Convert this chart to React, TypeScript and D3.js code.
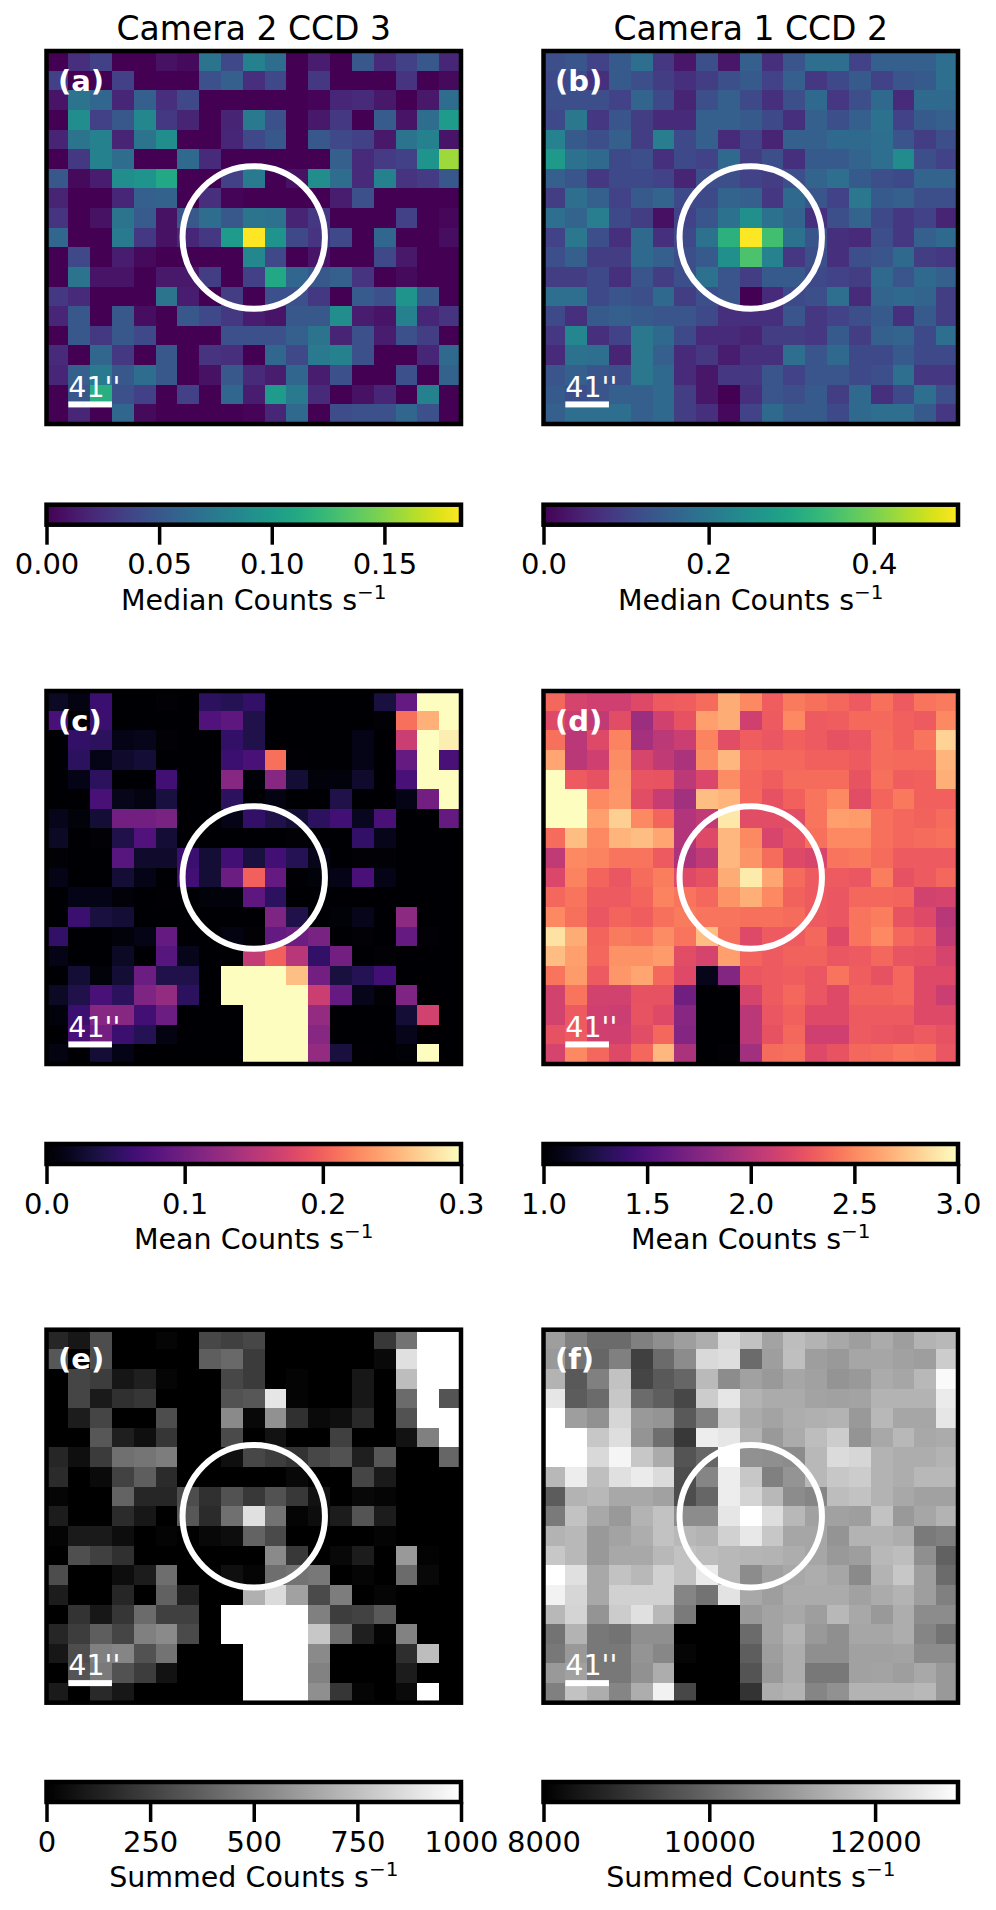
import React, { useEffect, useRef } from 'react';
import * as d3 from 'd3';

// cutouts, row by row from the top (19 x 19 pixels)
const medianCam2 = [
  [0,.025,.035,0,0,.008,.005,.07,.04,.08,.065,0,.015,0,.05,.022,.035,.05,.02],
  [.035,0,0,.035,0,0,0,.045,.055,.025,.04,0,.03,0,0,0,.028,0,.005],
  [.01,.07,.06,.02,.055,.025,.04,0,0,0,0,0,.002,.02,.022,.012,0,.012,.065],
  [0,.09,.035,.05,.085,.03,.018,0,.018,.075,.045,0,.012,.03,0,.052,.01,.065,.1],
  [.018,.07,.08,.018,.07,.09,0,0,.02,.04,.05,0,.05,.04,.035,.012,.07,.08,.01],
  [0,.03,.08,.065,0,0,.062,.022,0,0,0,0,0,.055,.022,.032,.035,.095,.157],
  [.05,.005,.015,.09,.095,.11,0,0,.035,.075,0,.008,.09,.065,.022,.08,.028,.032,.05],
  [.018,0,0,.02,.055,.058,0,.025,.002,0,0,0,0,.015,.045,0,0,0,0],
  [.028,0,.008,.07,.052,.008,.05,.065,.05,.07,.068,.018,.03,0,0,0,.035,0,.003],
  [.06,0,0,.075,.03,.008,.02,.03,.1,.184,.095,.04,.028,.04,0,.06,0,0,.006],
  [0,.04,0,.015,.005,0,0,0,0,.085,.04,0,.01,0,0,.04,.012,0,0],
  [0,.07,.01,.01,0,.012,.012,.033,0,.035,.11,.06,.05,.055,.028,0,.005,0,0],
  [.03,.022,0,0,0,.07,.015,0,.033,0,.045,.045,.03,0,.052,.045,.095,.05,0],
  [.02,.05,0,.05,.006,0,.05,.04,.03,.015,.01,.05,.05,.09,.015,.01,.08,.02,.028],
  [0,.05,.03,.05,.04,0,0,0,.045,.045,.045,.055,.07,.018,.045,.015,.045,.033,0],
  [.022,0,.06,.03,0,.05,0,.028,.025,0,.06,.04,.075,.08,.045,0,0,.02,.062],
  [.02,.055,.075,.05,.065,.05,0,.008,.05,.022,.015,.06,.015,.045,0,0,.045,0,.058],
  [0,.05,.115,.045,.035,0,.035,0,.06,.015,.1,.075,.022,0,.008,.02,0,.08,0],
  [0,.02,0,.06,.005,0,0,0,0,.002,.02,.062,0,.042,.045,.045,.06,.045,0],
];

const medianCam1 = [
  [.12,.13,.1,.14,.18,.08,.03,.12,.03,.15,.07,.13,.18,.18,.1,.15,.15,.15,.18],
  [.11,.11,.07,.14,.12,.09,.07,.09,.12,.14,.1,.15,.08,.11,.14,.1,.13,.14,.18],
  [.12,.12,.12,.1,.16,.11,.05,.12,.15,.11,.07,.12,.17,.08,.12,.17,.06,.17,.17],
  [.11,.2,.08,.13,.09,.06,.06,.15,.15,.14,.11,.07,.15,.12,.15,.19,.1,.14,.15],
  [.22,.14,.12,.15,.09,.21,.11,.15,.06,.1,.05,.15,.15,.17,.17,.18,.13,.09,.12],
  [.27,.19,.17,.11,.12,.07,.11,.1,.17,.09,.12,.07,.14,.14,.16,.18,.24,.12,.1],
  [.15,.13,.08,.11,.11,.1,.05,.12,.12,.1,.09,.12,.16,.18,.14,.12,.11,.16,.16],
  [.09,.18,.15,.1,.14,.16,.11,.11,.16,.15,.08,.17,.13,.1,.2,.14,.15,.12,.12],
  [.18,.16,.21,.11,.09,.02,.1,.13,.19,.25,.19,.16,.07,.12,.16,.11,.08,.1,.05],
  [.1,.2,.12,.07,.17,.07,.11,.19,.32,.5,.35,.19,.13,.07,.06,.12,.08,.15,.17],
  [.12,.15,.09,.09,.17,.15,.12,.14,.25,.36,.22,.08,.12,.07,.12,.13,.17,.09,.08],
  [.09,.09,.11,.07,.13,.09,.12,.19,.13,.09,.14,.14,.11,.1,.09,.17,.13,.17,.15],
  [.18,.18,.11,.13,.12,.17,.09,.12,.13,0,.06,.11,.12,.18,.06,.16,.17,.16,.09],
  [.11,.07,.14,.15,.14,.13,.13,.11,.07,.07,.07,.13,.08,.1,.12,.14,.07,.14,.09],
  [.08,.23,.07,.1,.2,.17,.11,.06,.06,.05,.09,.09,.08,.14,.09,.15,.16,.11,.18],
  [.06,.19,.18,.05,.2,.15,.06,.08,.04,.07,.07,.18,.13,.17,.11,.11,.14,.11,.11],
  [.13,.15,.13,.12,.2,.17,.06,.03,.08,.08,.13,.1,.13,.13,.11,.12,.18,.08,.08],
  [.14,.12,.13,.15,.15,.17,.09,.03,0,.07,.13,.12,.14,.09,.17,.07,.11,.18,.12],
  [.15,.18,.18,.18,.15,.17,.09,.07,.01,.1,.17,.14,.14,.11,.17,.18,.18,.14,.08],
];

const meanCam2 = [
  [.02,.01,.06,0,0,.003,0,.05,.045,.055,0,0,0,0,0,.035,.09,.3,.3],
  [.07,0,.06,0,0,0,0,.075,.085,.04,0,0,0,0,0,.003,.21,.25,.3],
  [0,.055,.05,.012,.015,.003,0,0,.055,.04,0,0,0,0,.012,0,.165,.3,.29],
  [0,.05,.012,.025,.03,0,0,0,.06,.07,.21,.002,0,0,.012,0,.09,.3,.07],
  [0,.012,.05,0,0,.065,0,0,.115,.004,.115,.03,.006,.008,.025,0,.07,.3,.3],
  [0,0,.07,.015,.01,.035,0,0,.05,0,.01,0,0,.04,0,0,.012,.1,.3],
  [.015,.006,.03,.1,.1,.105,0,0,.012,.055,.04,.03,.05,.065,.018,.07,0,0,.09],
  [.02,0,.003,.04,.075,.03,0,0,0,0,0,.003,0,0,.055,.015,0,0,0],
  [.003,0,0,.08,.025,.025,.06,.03,.065,.035,.065,.045,.015,0,.003,.003,0,0,0],
  [.012,0,0,.03,.012,0,.065,.03,.095,.2,.09,.002,.006,.012,.07,.012,0,0,0],
  [0,.012,.012,.005,0,.002,0,.006,.006,.085,.05,0,0,0,0,0,0,0,0],
  [0,.06,.035,.03,0,0,0,0,0,0,.11,.04,0,.004,.015,0,.12,0,0],
  [.055,0,0,.006,.012,.09,0,0,.01,.003,.09,.095,.105,0,.003,0,.09,.003,0],
  [.012,0,0,.02,0,.08,.015,0,0,.16,.2,.15,.055,.1,0,.003,0,0,0],
  [0,.03,.007,.03,.095,.04,.04,0,.3,.3,.3,.26,.1,.035,.045,.065,0,0,0],
  [.02,.04,.07,.05,.11,.125,.05,0,.3,.3,.3,.3,.165,.09,.015,.003,.11,0,0],
  [.008,.06,.115,.115,.065,.095,0,0,0,.3,.3,.3,.125,0,0,0,.03,.17,0],
  [0,.07,.1,.06,.045,.01,0,0,0,.3,.3,.3,.115,0,0,0,.015,0,0],
  [.01,0,.03,.012,0,0,0,0,0,.3,.3,.3,.125,.035,.002,0,.004,.3,0],
];

const meanCam1 = [
  [2.36,2.15,2.12,2.12,2.2,2.3,2.32,2.38,2.65,2.5,2.32,2.45,2.4,2.36,2.3,2.4,2.3,2.42,2.45],
  [2.2,2.1,2.05,2.22,1.88,2.13,2.25,2.6,2.65,2.12,2.3,2.5,2.3,2.32,2.37,2.37,2.33,2.3,2.5],
  [2.4,2.02,2.2,2.48,1.92,2.03,2.1,2.48,2.22,2.32,2.28,2.33,2.3,2.25,2.28,2.38,2.33,2.42,2.82],
  [2.62,2.02,2.12,2.52,2.16,2.05,1.95,2.52,2.7,2.38,2.36,2.36,2.33,2.33,2.3,2.38,2.37,2.37,2.68],
  [3,2.3,2.25,2.55,2.27,2.26,2.03,2.18,2.52,2.36,2.32,2.38,2.38,2.38,2.26,2.4,2.32,2.33,2.66],
  [3,3,2.5,2.56,2.22,2.08,1.9,2.72,2.68,2.37,2.25,2.33,2.42,2.5,2.22,2.35,2.44,2.33,2.33],
  [3,3,2.6,2.8,2.5,2.35,1.98,2.05,2.9,2.22,2.22,2.22,2.42,2.6,2.58,2.4,2.36,2.34,2.38],
  [2.38,2.72,2.5,2.68,2.72,2.62,1.98,2.2,2.7,2.5,2.17,2.25,2.4,2.5,2.5,2.4,2.36,2.38,2.4],
  [2.05,2.5,2.48,2.42,2.42,2.3,1.95,2.05,2.7,2.55,2.38,2.2,2.16,2.42,2.44,2.38,2.3,2.3,2.3],
  [2.18,2.48,2.35,2.28,2.38,2.46,2.2,2.25,2.65,2.92,2.62,2.38,2.3,2.3,2.28,2.46,2.25,2.3,2.36],
  [2.36,2.42,2.3,2.3,2.35,2.48,2.42,2.36,2.55,2.66,2.5,2.34,2.3,2.28,2.36,2.36,2.35,2.14,2.15],
  [2.5,2.4,2.28,2.35,2.32,2.4,2.45,2.42,2.42,2.4,2.4,2.38,2.3,2.28,2.42,2.46,2.26,2.2,2],
  [2.88,2.65,2.35,2.45,2.42,2.52,2.42,2.72,2.4,2.2,2.3,2.3,2.36,2.2,2.42,2.5,2.36,2.3,2.05],
  [2.72,2.6,2.36,2.54,2.54,2.58,2.22,2.15,2.6,2.35,2.3,2.34,2.34,2.28,2.3,2.36,2.27,2.25,2.15],
  [2.42,2.58,2.3,2.56,2.62,2.36,2.2,1.1,1.75,2.28,2.3,2.32,2.28,2.42,2.32,2.25,2.36,2.2,2.2],
  [2.14,2.42,2.14,2.14,2.25,2.25,1.66,1,1,2.15,2.3,2.36,2.28,2.2,2.34,2.34,2.36,2.2,2.1],
  [2.14,2.3,2.12,2.1,2.26,2.2,1.78,1,1,2.02,2.28,2.33,2.2,2.2,2.3,2.3,2.3,2.2,2.2],
  [2.25,2.3,2.12,2.12,2.22,2.36,1.76,1,1,2.02,2.25,2.36,2.12,2.12,2.3,2.28,2.26,2.3,2.25],
  [2.15,2.5,2.36,2.2,2.36,2.7,1.95,1,1.02,1.9,2.38,2.4,2.2,2.26,2.36,2.38,2.42,2.4,2.28],
];

const summedCam2 = [
  [150,90,300,0,0,20,0,280,250,280,0,0,0,0,0,220,450,1000,1000],
  [340,0,300,0,0,0,0,370,410,230,0,0,0,0,0,35,880,1000,1000],
  [0,270,240,85,120,20,0,0,280,230,0,15,0,0,90,0,740,1000,1000],
  [0,270,100,190,210,0,0,0,320,340,900,15,0,0,90,0,420,1000,330],
  [0,110,270,0,0,300,0,0,540,30,570,190,40,60,160,0,320,1000,1000],
  [0,0,340,120,60,210,0,0,290,0,70,0,0,250,0,0,70,500,1000],
  [150,60,230,440,460,490,0,0,60,280,240,200,280,320,120,340,0,0,400],
  [170,0,40,260,370,170,0,0,0,0,0,30,0,0,270,100,0,0,0],
  [20,0,0,390,150,150,300,190,320,220,320,220,70,0,30,20,0,0,0],
  [110,0,0,170,90,0,340,170,440,880,450,15,50,110,330,110,0,0,0],
  [15,100,100,50,0,15,0,30,50,390,290,0,0,0,0,15,0,0,0],
  [0,310,250,190,0,0,0,0,0,0,540,220,0,30,110,0,600,10,0],
  [300,0,0,50,110,430,0,0,60,20,430,450,470,0,20,0,420,30,0],
  [110,0,0,150,0,380,130,0,0,690,860,630,290,490,0,20,0,0,0],
  [0,200,90,210,420,250,250,0,1000,1000,1000,1000,500,240,260,350,0,0,0],
  [150,240,370,270,500,540,290,0,1000,1000,1000,1000,780,430,120,15,510,0,0],
  [90,300,500,520,320,450,0,0,0,1000,1000,1000,540,0,0,0,180,740,0],
  [0,330,480,320,240,70,0,0,0,1000,1000,1000,510,0,0,0,110,0,0],
  [100,0,160,90,0,0,0,0,0,1000,1000,1000,560,210,20,0,40,1000,0],
];

const summedCam1 = [
  [11100,10500,10100,10100,10500,10800,11100,11400,12250,11800,11200,11700,11500,11300,11100,11350,11100,11500,11600],
  [11000,10250,10000,10500,9250,10100,10750,12250,12350,10100,11100,11750,11100,11000,11250,11250,11150,11100,12000],
  [11500,9750,10500,11800,9350,9750,10000,11650,10750,11150,11000,11250,11150,10900,11000,11350,11250,11600,12900],
  [12500,9800,10100,11900,10100,9850,9400,12000,12500,11500,11350,11350,11200,11150,11200,11500,11500,11500,12600],
  [13000,11100,10850,12200,11000,10900,9750,10500,12000,11350,11200,11400,11450,11500,11000,11600,11250,11250,12500],
  [13000,13000,11900,12350,10900,10150,9100,12650,12500,11500,11000,11350,11700,12000,10900,11300,11600,11300,11350],
  [13000,13000,12250,12800,11900,11350,9650,10000,13000,10850,10800,10750,11600,12300,12200,11500,11400,11400,11500],
  [11600,12650,11750,12400,12600,12300,9500,10600,12650,11900,10500,10900,11600,11900,12000,11500,11400,11600,11600],
  [9800,11500,11600,11300,11300,11150,9500,10000,12650,12150,11600,10750,10600,11700,11800,11500,11300,11150,11150],
  [10400,11800,11300,11000,11500,11800,10750,10750,12500,13000,12350,11600,11150,11150,11100,11800,11000,11250,11500],
  [11500,11600,11000,11200,11400,11800,11600,11500,12100,12550,11900,11250,11250,10900,11500,11500,11400,10400,10500],
  [11900,11600,11000,11300,11300,11600,11800,11700,11600,11550,11500,11400,11250,11000,11100,11600,11700,10800,9900],
  [13000,12400,11300,11800,11600,12100,11800,12600,11600,10750,11150,11300,11400,11250,10700,11500,11900,11100,10100],
  [12750,12200,11300,12100,12100,12100,10600,10250,12450,11300,11100,11350,11350,11350,11150,11350,11500,11100,10500],
  [11600,12150,10900,12000,12400,11600,10400,8000,8000,11000,11200,11300,11100,11600,11300,11000,11400,10750,10750],
  [10250,11500,10350,10250,10800,10800,8000,8000,8000,10100,11200,11500,11000,10800,11250,11250,11400,10600,10250],
  [10350,11000,10350,10350,10900,10650,8100,8000,8000,9850,11100,11400,10800,10800,11150,11150,11200,10750,10750],
  [11000,11150,10350,10350,10850,11400,8000,8000,8000,9650,11000,11400,10350,10350,11150,11200,11100,11300,11000],
  [10500,11800,11400,10600,11400,12750,9400,8000,8000,9000,11400,11500,10600,10850,11500,11500,11500,11600,11000],
];

const columnTitles = ['Camera 2 CCD 3', 'Camera 1 CCD 2'];
const panelLetters = ['(a)', '(b)', '(c)', '(d)', '(e)', '(f)'];
const cbarLabels = ['Median Counts s', 'Median Counts s', 'Mean Counts s', 'Mean Counts s', 'Summed Counts s', 'Summed Counts s'];
const panelData = [medianCam2, medianCam1, meanCam2, meanCam1, summedCam2, summedCam1];
const panelRanges = [[0, 0.184], [0, 0.502], [0, 0.3], [1, 3], [0, 1000], [8000, 13000]];
const panelTicks = [
  [0, 0.05, 0.1, 0.15],
  [0, 0.2, 0.4],
  [0, 0.1, 0.2, 0.3],
  [1, 1.5, 2, 2.5, 3],
  [0, 250, 500, 750, 1000],
  [8000, 10000, 12000],
];
const tickFormats = ['.2f', '.1f', '.1f', '.1f', 'd', 'd'];
const grey = (t: number) => d3.rgb(255 * t, 255 * t, 255 * t).formatRgb();
const panelCmaps = [d3.interpolateViridis, d3.interpolateViridis, d3.interpolateMagma, d3.interpolateMagma, grey, grey];
const scaleBarLabel = "41''";

// layout, measured in px
const colX = [46.5, 543.5];
const rowY = [51, 691, 1329.7];
const cbarY = [504.7, 1144, 1782];
const panelW = 414.5, panelH = 373, cbarH = 20;
const font = 'DejaVu Sans';

function App() {
  const ref = useRef<SVGSVGElement>(null);

  useEffect(() => {
    const svg = d3.select(ref.current);
    svg.selectAll('*').remove();
    const defs = svg.append('defs');

    columnTitles.forEach((t, i) => {
      svg.append('text')
        .attr('x', colX[i] + panelW / 2)
        .attr('y', 40)
        .attr('text-anchor', 'middle')
        .style('font-family', font)
        .style('font-size', '33px')
        .text(t);
    });

    panelData.forEach((rows, p) => {
      const col = p % 2, row = Math.floor(p / 2);
      const x = d3.scaleLinear().domain([0, 19]).range([colX[col], colX[col] + panelW]);
      const y = d3.scaleLinear().domain([0, 19]).range([rowY[row], rowY[row] + panelH]);
      const [lo, hi] = panelRanges[p];
      const norm = d3.scaleLinear().domain([lo, hi]).range([0, 1]).clamp(true);
      const cmap = panelCmaps[p];
      const g = svg.append('g');

      rows.forEach((vals, r) => {
        g.selectAll(null)
          .data(vals)
          .join('rect')
          .attr('x', (_, c) => x(c))
          .attr('y', y(r))
          .attr('width', x(1) - x(0) + 0.5)
          .attr('height', y(1) - y(0) + 0.5)
          .attr('shape-rendering', 'crispEdges')
          .attr('fill', d => cmap(norm(d)));
      });

      g.append('rect')
        .attr('x', x(0)).attr('y', y(0))
        .attr('width', panelW).attr('height', panelH)
        .attr('fill', 'none').attr('stroke', '#000').attr('stroke-width', 4.5);

      // source aperture
      g.append('circle')
        .attr('cx', x(9.5)).attr('cy', y(9.5)).attr('r', 71.2)
        .attr('fill', 'none').attr('stroke', '#fff').attr('stroke-width', 6);

      g.append('text')
        .attr('x', x(0) + 11.5).attr('y', y(0) + 39.5)
        .attr('fill', '#fff')
        .style('font-family', font).style('font-size', '29px').style('font-weight', 'bold')
        .text(panelLetters[p]);

      // scale bar, two pixels long
      g.append('rect')
        .attr('x', x(1)).attr('y', y(17.85))
        .attr('width', x(3) - x(1)).attr('height', 6)
        .attr('fill', '#fff');
      g.append('text')
        .attr('x', x(1)).attr('y', y(17.6))
        .attr('fill', '#fff')
        .style('font-family', font).style('font-size', '28.5px')
        .text(scaleBarLabel);

      // colorbar
      const cx = d3.scaleLinear().domain([lo, hi]).range([colX[col], colX[col] + panelW]);
      const top = cbarY[row];
      const gradId = 'cbar' + p;
      defs.append('linearGradient').attr('id', gradId)
        .selectAll('stop')
        .data(d3.range(0, 1.0001, 0.05))
        .join('stop')
        .attr('offset', d => d)
        .attr('stop-color', d => cmap(d));
      const bar = svg.append('g');
      bar.append('rect')
        .attr('x', colX[col]).attr('y', top)
        .attr('width', panelW).attr('height', cbarH)
        .attr('fill', `url(#${gradId})`)
        .attr('stroke', '#000').attr('stroke-width', 4.5);

      const axis = d3.axisBottom(cx)
        .tickValues(panelTicks[p])
        .tickSize(20)
        .tickPadding(9)
        .tickFormat(d3.format(tickFormats[p]) as any);
      const ag = bar.append('g')
        .attr('transform', `translate(0,${top + cbarH})`)
        .call(axis);
      ag.select('.domain').remove();
      ag.selectAll('.tick line').attr('stroke', '#000').attr('stroke-width', 3.5);
      ag.selectAll('.tick text')
        .attr('fill', '#000')
        .style('font-family', font).style('font-size', '29px');

      const label = bar.append('text')
        .attr('x', colX[col] + panelW / 2)
        .attr('y', top + cbarH + 85)
        .attr('text-anchor', 'middle')
        .style('font-family', font).style('font-size', '28.5px')
        .text(cbarLabels[p]);
      label.append('tspan')
        .attr('dy', -11)
        .style('font-size', '20px')
        .text('\u22121');
    });
  }, []);

  return (
    <svg
      ref={ref}
      width={996}
      height={1910}
      style={{ position: 'absolute', left: 0, top: 0, background: '#fff' }}
    />
  );
}

export default App;
